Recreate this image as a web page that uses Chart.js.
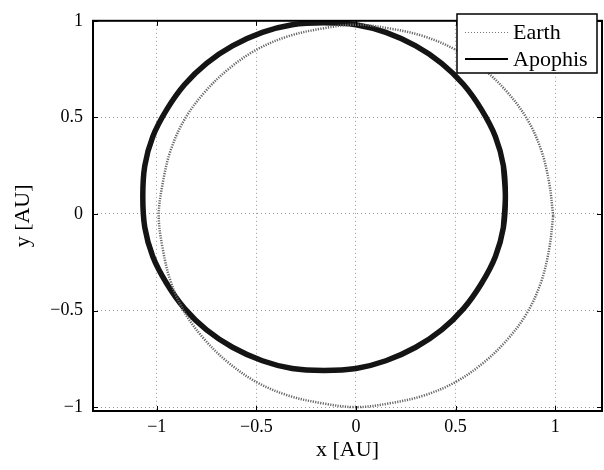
<!DOCTYPE html>
<html>
<head>
<meta charset="utf-8">
<script src="https://cdn.jsdelivr.net/npm/chart.js@4"></script>
<style>
  html, body { margin: 0; padding: 0; background: #fff; }
  #wrap { width: 604px; height: 470px; }
</style>
</head>
<body>
<div id="wrap"><canvas id="orbit" width="604" height="470"></canvas></div>
<script>
// orbit points (AU), every ~10 deg round the loop
const earthX = [0.99, 0.97, 0.93, 0.86, 0.76, 0.64, 0.50, 0.34, 0.17, 0.00, -0.17, -0.34, -0.50, -0.64, -0.76, -0.86, -0.93, -0.97, -0.99, -0.97, -0.93, -0.86, -0.76, -0.64, -0.50, -0.34, -0.17, 0.00, 0.17, 0.34, 0.50, 0.64, 0.76, 0.86, 0.93, 0.97, 0.99];
const earthY = [-0.01, 0.16, 0.33, 0.49, 0.63, 0.75, 0.85, 0.92, 0.96, 0.98, 0.96, 0.92, 0.85, 0.75, 0.63, 0.49, 0.33, 0.16, -0.01, -0.18, -0.35, -0.51, -0.65, -0.77, -0.87, -0.94, -0.98, -1.00, -0.98, -0.94, -0.87, -0.77, -0.65, -0.51, -0.35, -0.18, -0.01];
// apophis: first and last points overlap so the thick loop has no kink
const apophisX = [0.74, 0.75, 0.74, 0.70, 0.63, 0.54, 0.43, 0.30, 0.15, 0.00, -0.16, -0.32, -0.47, -0.62, -0.75, -0.86, -0.95, -1.02, -1.06, -1.07, -1.06, -1.02, -0.95, -0.86, -0.75, -0.62, -0.47, -0.32, -0.16, 0.00, 0.15, 0.30, 0.43, 0.54, 0.63, 0.70, 0.74, 0.75, 0.74];
const apophisY = [-0.07, 0.09, 0.25, 0.40, 0.54, 0.67, 0.78, 0.87, 0.94, 0.98, 0.99, 0.98, 0.94, 0.87, 0.78, 0.67, 0.54, 0.40, 0.25, 0.09, -0.07, -0.22, -0.36, -0.49, -0.60, -0.69, -0.76, -0.80, -0.81, -0.80, -0.76, -0.69, -0.60, -0.49, -0.36, -0.22, -0.07, 0.09, 0.25];
const seriesNames = ["Earth", "Apophis"];
const tickValues = [-1, -0.5, 0, 0.5, 1];

const serif = "'Liberation Serif', 'DejaVu Serif', serif";

function pts(xs, ys) {
  return xs.map((x, i) => ({ x: x, y: ys[i] }));
}
function fmt(v) {
  return String(v).replace("-", "\u2212");
}

// box round the plot + matlab style inward ticks + legend
const frame = {
  id: "frame",
  afterDraw(chart) {
    const ctx = chart.ctx;
    const a = chart.chartArea;
    const xs = chart.scales.x, ys = chart.scales.y;
    ctx.save();
    ctx.strokeStyle = "#000";
    ctx.lineWidth = 1;
    ctx.beginPath();
    tickValues.forEach(v => {
      const px = Math.round(xs.getPixelForValue(v)) + 0.5;
      ctx.moveTo(px, a.bottom); ctx.lineTo(px, a.bottom - 5);
      ctx.moveTo(px, a.top); ctx.lineTo(px, a.top + 5);
      const py = Math.round(ys.getPixelForValue(v)) + 0.5;
      ctx.moveTo(a.left, py); ctx.lineTo(a.left + 5, py);
      ctx.moveTo(a.right, py); ctx.lineTo(a.right - 5, py);
    });
    ctx.stroke();
    ctx.lineWidth = 2;
    ctx.strokeRect(a.left, a.top, a.right - a.left, a.bottom - a.top);

    // legend
    const lx = 457, ly = 14, lw = 140, lh = 59;
    ctx.fillStyle = "#fff";
    ctx.fillRect(lx, ly, lw, lh);
    ctx.lineWidth = 1.5;
    ctx.strokeRect(lx, ly, lw, lh);
    ctx.font = "22px " + serif;
    ctx.fillStyle = "#000";
    ctx.textBaseline = "middle";
    ctx.textAlign = "left";
    ctx.strokeStyle = "#777";
    ctx.lineWidth = 1;
    ctx.setLineDash([1, 2]);
    ctx.beginPath();
    ctx.moveTo(465, 32.5); ctx.lineTo(508, 32.5);
    ctx.stroke();
    ctx.setLineDash([]);
    ctx.strokeStyle = "#000";
    ctx.lineWidth = 2;
    ctx.beginPath();
    ctx.moveTo(465, 59); ctx.lineTo(508, 59);
    ctx.stroke();
    ctx.fillText(seriesNames[0], 513, 33);
    ctx.fillText(seriesNames[1], 513, 60);
    ctx.restore();
  }
};

new Chart(document.getElementById("orbit"), {
  type: "scatter",
  data: {
    datasets: [{
      label: seriesNames[0],
      data: pts(earthX, earthY),
      showLine: true,
      borderColor: "#666",
      borderWidth: 2.5,
      borderDash: [1.2, 1.3],
      tension: 0.35,
      pointRadius: 0
    }, {
      label: seriesNames[1],
      data: pts(apophisX, apophisY),
      showLine: true,
      borderColor: "#141414",
      borderWidth: 5.5,
      tension: 0.35,
      pointRadius: 0
    }]
  },
  options: {
    responsive: false,
    animation: false,
    layout: { padding: { top: 8, right: 2, left: 0, bottom: 0 } },
    plugins: { legend: { display: false }, tooltip: { enabled: false } },
    scales: {
      x: {
        type: "linear",
        min: -1.32,
        max: 1.235,
        afterBuildTicks: s => { s.ticks = tickValues.map(v => ({ value: v })); },
        afterFit: s => { s.height = 59; },
        ticks: {
          color: "#000",
          padding: 5,
          font: { family: serif, size: 18 },
          callback: v => fmt(v)
        },
        grid: { color: "#999", drawTicks: false, lineWidth: 1 },
        border: { display: false, dash: [1, 3] },
        title: {
          display: true,
          text: "x [AU]",
          color: "#000",
          font: { family: serif, size: 22 },
          padding: { top: 0, bottom: 7 }
        }
      },
      y: {
        type: "linear",
        min: -1.02,
        max: 1.0,
        afterBuildTicks: s => { s.ticks = tickValues.map(v => ({ value: v })); },
        afterFit: s => { s.width = 93; },
        ticks: {
          color: "#000",
          padding: 10,
          font: { family: serif, size: 18 },
          callback: v => fmt(v)
        },
        grid: { color: "#999", drawTicks: false, lineWidth: 1 },
        border: { display: false, dash: [1, 3] },
        title: {
          display: true,
          text: "y [AU]",
          color: "#000",
          font: { family: serif, size: 22 },
          padding: { top: 10, bottom: 0 }
        }
      }
    }
  },
  plugins: [frame]
});
</script>
</body>
</html>
